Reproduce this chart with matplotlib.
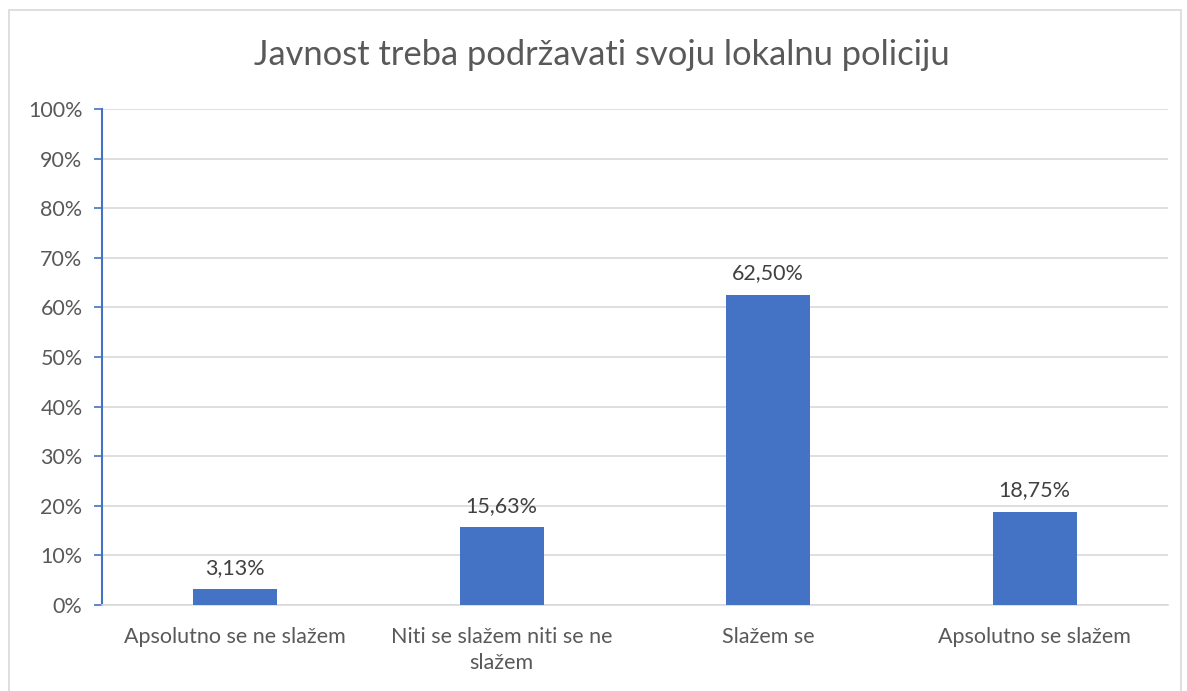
import matplotlib.pyplot as plt
from matplotlib.patches import Rectangle
from matplotlib.ticker import MultipleLocator, FuncFormatter

categories = ["Apsolutno se ne slažem", "Niti se slažem niti se ne\nslažem",
              "Slažem se", "Apsolutno se slažem"]
values = [3.13, 15.63, 62.50, 18.75]
labels = ["3,13%", "15,63%", "62,50%", "18,75%"]

plt.rcParams['font.family'] = ['Lato', 'DejaVu Sans']
txt = '#595959'
fs = 15.5

fig = plt.figure(figsize=(11.87, 6.91), dpi=100)
fig.patches.append(Rectangle((9/1187, -0.1), (1181-9)/1187, 1.1 - 10/691,
                             transform=fig.transFigure, fill=False,
                             edgecolor='#D9D9D9', linewidth=1.2))
ax = fig.add_axes([102/1187, 86/691, (1168-102)/1187, (605-109)/691])

x = range(len(categories))
ax.bar(x, values, width=0.315, color='#4472C4', zorder=3)
for xi, v, lab in zip(x, values, labels):
    ax.text(xi, v + 2.3, lab, ha='center', va='bottom', fontsize=fs, color='#404040')

ax.set_xlim(-0.5, len(categories) - 0.5)
ax.set_ylim(0, 100)
ax.yaxis.set_major_locator(MultipleLocator(10))
ax.yaxis.set_major_formatter(FuncFormatter(lambda v, p: f'{v:.0f}%'))
ax.grid(axis='y', color='#D9D9D9', linewidth=1.2, zorder=0)
ax.set_xticks(list(x))
ax.set_xticklabels(categories, fontsize=fs, color=txt, linespacing=1.35)
ax.tick_params(axis='x', length=0, pad=16)
ax.tick_params(axis='y', length=6, width=1.2, color='#4472C4', labelsize=fs,
               labelcolor=txt, pad=8)
for s in ['top', 'right']:
    ax.spines[s].set_visible(False)
ax.spines['bottom'].set_color('#D9D9D9')
ax.spines['bottom'].set_linewidth(1.2)
ax.spines['left'].set_color('#4472C4')
ax.spines['left'].set_linewidth(1.5)

fig.text(602/1187, 1 - 55/691, "Javnost treba podržavati svoju lokalnu policiju",
         ha='center', va='center', fontsize=24.8, color=txt)

fig.savefig('out.png', dpi=100)
